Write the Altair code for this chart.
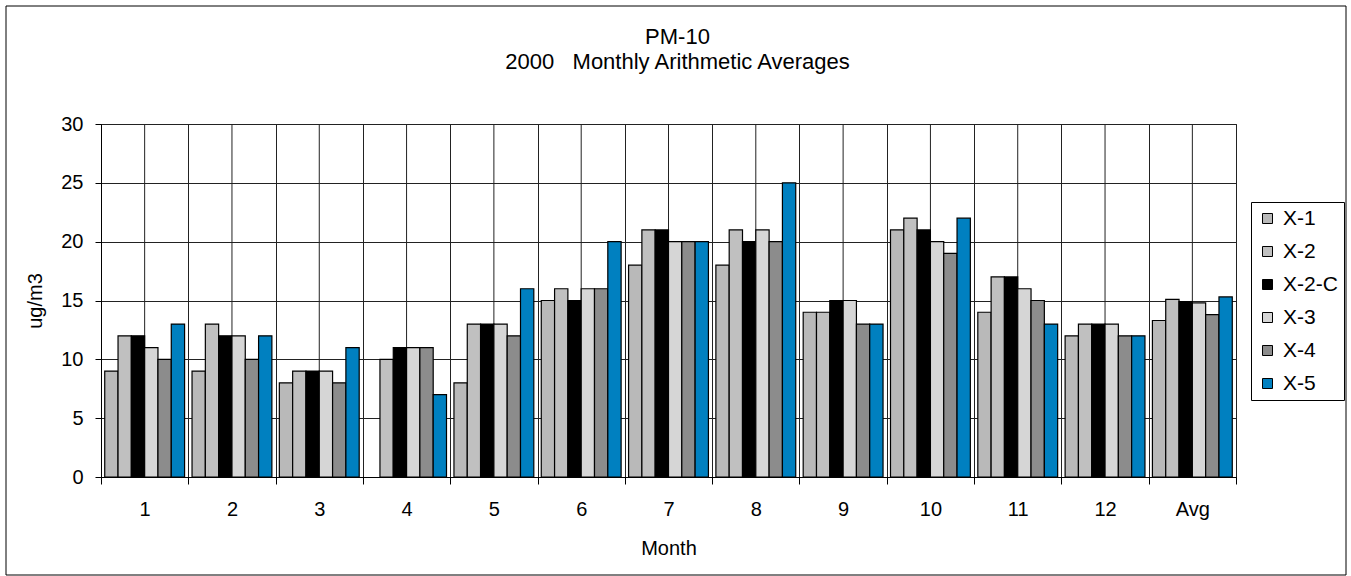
import altair as alt
import pandas as pd

months = ["1", "2", "3", "4", "5", "6", "7", "8", "9", "10", "11", "12", "Avg"]
series = ["X-1", "X-2", "X-2-C", "X-3", "X-4", "X-5"]
x1 = [9, 9, 8, None, 8, 15, 18, 18, 14, 21, 14, 12, 13.3]
x2 = [12, 13, 9, 10, 13, 16, 21, 21, 14, 22, 17, 13, 15.1]
x2c = [12, 12, 9, 11, 13, 15, 21, 20, 15, 21, 17, 13, 14.9]
x3 = [11, 12, 9, 11, 13, 16, 20, 21, 15, 20, 16, 13, 14.8]
x4 = [10, 10, 8, 11, 12, 16, 20, 20, 13, 19, 15, 12, 13.8]
x5 = [13, 12, 11, 7, 16, 20, 20, 25, 13, 22, 13, 12, 15.3]
colors = ["#b9b9b9", "#c0c0c0", "#000000", "#d6d6d6", "#8c8c8c", "#0080c0"]
title_lines = ["PM-10", "2000\u00a0\u00a0 Monthly Arithmetic Averages"]
y_ticks = [0, 5, 10, 15, 20, 25, 30]

rows = []
for name, vals in zip(series, [x1, x2, x2c, x3, x4, x5]):
    for m, v in zip(months, vals):
        if v is not None:
            rows.append({"Month": m, "Series": name, "Value": v})
df = pd.DataFrame(rows)
mdf = pd.DataFrame({"Month": months})
one = pd.DataFrame({"a": [0]})

W, H = 1135, 353
FONT = "Liberation Sans"

xenc = alt.X(
    "Month:N",
    sort=months,
    scale=alt.Scale(domain=months, paddingInner=0, paddingOuter=0),
    axis=alt.Axis(
        title="Month", labelAngle=0, labelAlign="center", tickBand="extent",
        grid=True, gridColor="#222", gridWidth=1, tickSize=7,
        tickColor="#000", domainColor="#000", labelFontSize=20,
        labelColor="#000", labelBaseline="alphabetic", labelPadding=31,
        titleFontSize=20, titleFontWeight="normal", titleColor="#000",
        titleBaseline="alphabetic", titleY=77,
    ),
)

rules = alt.Chart(mdf).mark_rule(color="#222", strokeWidth=1).encode(
    x=alt.X("Month:N", sort=months)
)

bars = alt.Chart(df).mark_bar(stroke="#000", strokeWidth=1.2).encode(
    x=xenc,
    xOffset=alt.XOffset(
        "Series:N",
        scale=alt.Scale(domain=series, paddingInner=0, paddingOuter=0.28),
    ),
    y=alt.Y(
        "Value:Q",
        scale=alt.Scale(domain=[0, 30], nice=False),
        axis=alt.Axis(
            values=y_ticks, title="ug/m3", grid=True, gridColor="#222",
            gridWidth=1, tickSize=6, tickColor="#000", domainColor="#000",
            labelFontSize=20, labelColor="#000", labelPadding=12,
            titleFontSize=20, titleFontWeight="normal", titleColor="#000",
            titleX=-60, titleY=H / 2, titleBaseline="alphabetic",
            titleAlign="center", titleAngle=270,
        ),
    ),
    color=alt.Color(
        "Series:N",
        scale=alt.Scale(domain=series, range=colors),
        legend=alt.Legend(
            title=None, orient="none", legendX=1150, legendY=78,
            symbolType="square", symbolSize=100, symbolStrokeColor="#000",
            symbolStrokeWidth=1, labelFontSize=21, labelColor="#000",
            labelOffset=5, rowPadding=11, padding=6,
            strokeColor="#000", fillColor="white",
        ),
    ),
)

title = alt.Chart(one).mark_text(
    text=title_lines, fontSize=22, font=FONT, color="#000",
    baseline="alphabetic", align="center", lineHeight=25,
).encode(x=alt.value(W / 2 + 9), y=alt.value(44 - 124))

border = alt.Chart(one).mark_rect(
    fill="transparent", stroke="#000", strokeWidth=1
).encode(
    x=alt.value(6 - 101), x2=alt.value(1346 - 101),
    y=alt.value(6 - 124), y2=alt.value(575 - 124),
)

chart = alt.layer(rules, bars, title, border).properties(
    width=W, height=H,
    padding={"left": 101, "top": 124, "right": 1351 - 101 - W, "bottom": 576 - 124 - H},
    autosize=alt.AutoSizeParams(type="none"),
).configure(font=FONT).configure_view(stroke="#222", strokeWidth=1)

chart.save("out.html", embed_options={"renderer": "svg", "actions": False})
